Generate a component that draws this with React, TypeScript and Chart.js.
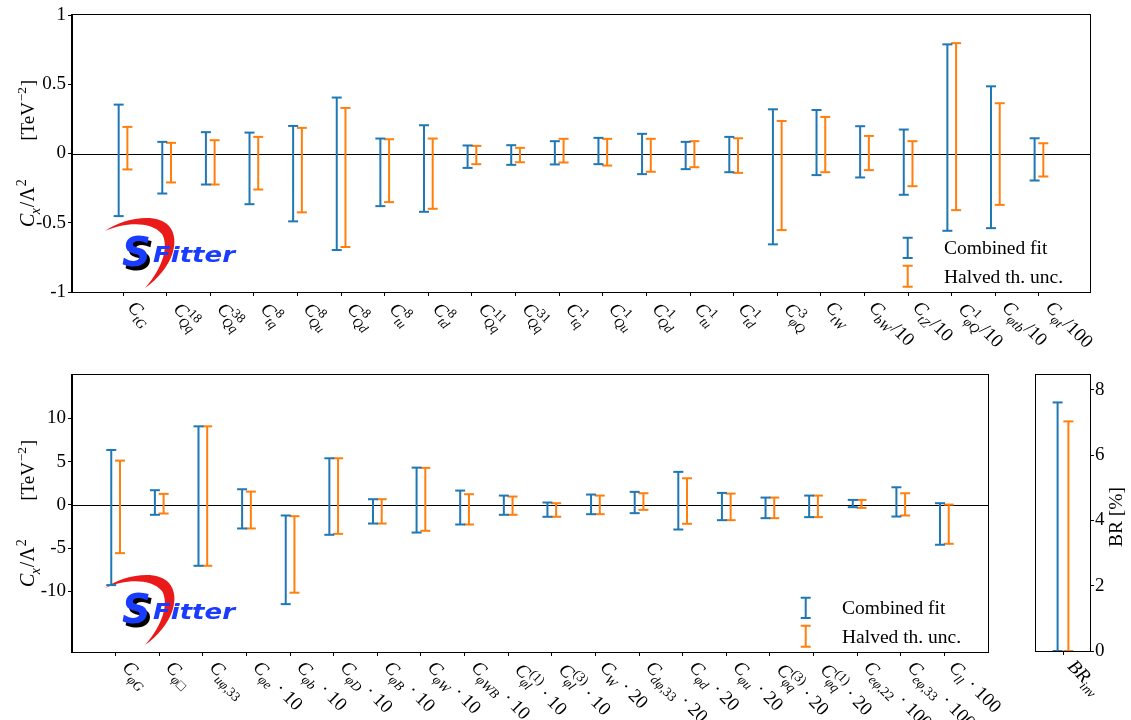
import React, { useEffect, useRef } from "react";
import { Chart, registerables } from "chart.js";
Chart.register(...registerables);

const FONT = "'Liberation Serif', 'DejaVu Serif', serif";
const SANS = "'DejaVu Sans', 'Liberation Sans', sans-serif";
const BLUE = "#1f77b4";
const ORANGE = "#ff7f0e";
const OFFSET = 0.1;

// ---------- top panel ----------
const topLabels = [
  "C_{tG}", "C_{Qq}^{18}", "C_{Qq}^{38}", "C_{tq}^{8}", "C_{Qu}^{8}", "C_{Qd}^{8}",
  "C_{tu}^{8}", "C_{td}^{8}", "C_{Qq}^{11}", "C_{Qq}^{31}", "C_{tq}^{1}", "C_{Qu}^{1}",
  "C_{Qd}^{1}", "C_{tu}^{1}", "C_{td}^{1}", "C_{φQ}^{3}", "C_{tW}", "C_{bW}/10",
  "C_{tZ}/10", "C_{φQ}^{1}/10", "C_{φtb}/10", "C_{φt}/100",
];
const topCombinedHigh = [0.353, 0.084, 0.154, 0.151, 0.199, 0.404, 0.108, 0.204, 0.058, 0.060, 0.089, 0.113, 0.142, 0.084, 0.120, 0.319, 0.314, 0.197, 0.173, 0.788, 0.485, 0.110];
const topCombinedLow = [-0.452, -0.289, -0.224, -0.366, -0.490, -0.697, -0.380, -0.421, -0.104, -0.082, -0.079, -0.077, -0.149, -0.113, -0.135, -0.656, -0.156, -0.173, -0.298, -0.558, -0.539, -0.195];
const topHalvedHigh = [0.192, 0.077, 0.096, 0.120, 0.185, 0.329, 0.103, 0.108, 0.055, 0.041, 0.106, 0.106, 0.106, 0.089, 0.110, 0.235, 0.264, 0.127, 0.089, 0.797, 0.363, 0.074];
const topHalvedLow = [-0.115, -0.209, -0.224, -0.260, -0.425, -0.675, -0.351, -0.399, -0.077, -0.063, -0.065, -0.087, -0.132, -0.099, -0.140, -0.553, -0.135, -0.120, -0.236, -0.409, -0.371, -0.166];
const topYTicks = [-1, -0.5, 0, 0.5, 1];

// ---------- bottom panel ----------
const bottomLabels = [
  "C_{φG}", "C_{φ□}", "C_{uφ,33}", "C_{φe} · 10", "C_{φb} · 10", "C_{φD} · 10",
  "C_{φB} · 10", "C_{φW} · 10", "C_{φWB} · 10", "C_{φl}^{(1)} · 10", "C_{φl}^{(3)} · 10",
  "C_{W} · 20", "C_{dφ,33} · 20", "C_{φd} · 20", "C_{φu} · 20", "C_{φq}^{(3)} · 20",
  "C_{φq}^{(1)} · 20", "C_{eφ,22} · 100", "C_{eφ,33} · 100", "C_{ll} · 100",
];
const bottomCombinedHigh = [6.34, 1.69, 9.07, 1.80, -1.23, 5.38, 0.65, 4.30, 1.65, 1.07, 0.27, 1.19, 1.50, 3.81, 1.38, 0.84, 1.07, 0.57, 2.03, 0.19];
const bottomCombinedLow = [-9.27, -1.15, -7.04, -2.73, -11.47, -3.46, -2.16, -3.20, -2.27, -1.15, -1.38, -1.08, -0.96, -2.85, -1.77, -1.54, -1.42, -0.27, -1.35, -4.61];
const bottomHalvedHigh = [5.11, 1.27, 9.07, 1.53, -1.31, 5.38, 0.65, 4.27, 1.23, 0.96, 0.19, 1.07, 1.34, 3.07, 1.30, 0.84, 1.07, 0.57, 1.34, 0.03];
const bottomHalvedLow = [-5.58, -1.00, -7.04, -2.73, -10.15, -3.35, -2.16, -3.00, -2.27, -1.15, -1.38, -1.08, -0.58, -2.19, -1.77, -1.54, -1.42, -0.35, -1.23, -4.50];
const bottomYTicks = [-10, -5, 0, 5, 10];

// ---------- BR panel ----------
const brLabels = ["BR_{inv}"];
const brCombinedHigh = [7.61];
const brCombinedLow = [0];
const brHalvedHigh = [7.03];
const brHalvedLow = [0];
const brYTicks = [0, 2, 4, 6, 8];

const legendLabels = ["Combined fit", "Halved th. unc."];
const yTitleParts = ["C_{x}/Λ^{2}", "[TeV^{−2}]"];
const brTitle = "BR [%]";

// ---------- helpers ----------
function errorPoints(lows: number[], highs: number[], off: number) {
  const pts: any[] = [];
  lows.forEach((lo, i) => {
    pts.push({ x: i + off, y: lo });
    pts.push({ x: i + off, y: highs[i] });
    pts.push({ x: i + off, y: null });
  });
  return pts;
}

function italicChar(c: string) {
  return /[A-Za-zφ]/.test(c);
}
function textRuns(s: string, math: boolean) {
  const out: { t: string; italic: boolean }[] = [];
  for (const c of s) {
    const it = math && italicChar(c);
    if (out.length && out[out.length - 1].italic === it) out[out.length - 1].t += c;
    else out.push({ t: c, italic: it });
  }
  return out;
}
function fontStr(size: number, italic: boolean) {
  return `${italic ? "italic " : ""}${size}px ${FONT}`;
}
type Piece = { t: string; size: number; italic: boolean; dy: number; x: number };
function layoutTex(ctx: CanvasRenderingContext2D, s: string, fs: number, math = true) {
  const pieces: Piece[] = [];
  let x = 0, groupStart = 0, groupW = 0, lastScript = false, asc = 0, desc = 0;
  const re = /([_^])\{([^}]*)\}|([^_^]+)/g;
  let m: RegExpExecArray | null;
  const add = (t: string, size: number, italic: boolean, dy: number, px: number) => {
    ctx.font = fontStr(size, italic);
    const mt = ctx.measureText(t);
    pieces.push({ t, size, italic, dy, x: px });
    asc = Math.max(asc, mt.actualBoundingBoxAscent - dy);
    desc = Math.max(desc, mt.actualBoundingBoxDescent + dy);
    return mt.width;
  };
  while ((m = re.exec(s)) !== null) {
    if (m[1]) {
      if (!lastScript) { groupStart = x; groupW = 0; }
      const isSub = m[1] === "_";
      const size = fs * 0.7;
      const dy = isSub ? fs * 0.28 : -fs * 0.4;
      let px = groupStart + (isSub ? -0.5 : 0.8);
      for (const r of textRuns(m[2], math)) px += add(r.t, size, r.italic, dy, px);
      groupW = Math.max(groupW, px - groupStart);
      x = groupStart + groupW + 0.8;
      lastScript = true;
    } else {
      for (const r of textRuns(m[3], math)) x += add(r.t, fs, r.italic, 0, x);
      lastScript = false;
    }
  }
  return { pieces, width: x, asc, desc };
}
function drawPieces(ctx: CanvasRenderingContext2D, pieces: Piece[], ox: number, oy: number, angle: number, xoff = 0) {
  ctx.save();
  ctx.translate(ox, oy);
  ctx.rotate(angle);
  ctx.fillStyle = "#000";
  ctx.textBaseline = "alphabetic";
  ctx.textAlign = "left";
  for (const p of pieces) {
    ctx.font = fontStr(p.size, p.italic);
    ctx.fillText(p.t, p.x + xoff, p.dy);
  }
  ctx.restore();
}

const LABEL_FS = 19;
const LABEL_DX = 0;
const LABEL_DY = 7;

function drawXLabels(chart: any, labels: string[]) {
  const ctx = chart.ctx as CanvasRenderingContext2D;
  const xs = chart.scales.x;
  const bottom = chart.chartArea.bottom;
  const c = Math.SQRT1_2;
  labels.forEach((lab, i) => {
    const lay = layoutTex(ctx, lab, LABEL_FS);
    const tx = xs.getPixelForValue(i);
    drawPieces(ctx, lay.pieces, tx + LABEL_DX + c * lay.desc, bottom + LABEL_DY + c * lay.asc, Math.PI / 4);
  });
}

function drawYTitle(chart: any, baselineX: number, span: number) {
  const ctx = chart.ctx as CanvasRenderingContext2D;
  const { top, bottom } = chart.chartArea;
  const cy = (top + bottom) / 2;
  const a = layoutTex(ctx, yTitleParts[0], 20, true);
  const b = layoutTex(ctx, yTitleParts[1], 19, false);
  const gap = span - a.width - b.width;
  const start = -span / 2;
  drawPieces(ctx, a.pieces, baselineX, cy, -Math.PI / 2, start);
  drawPieces(ctx, b.pieces, baselineX, cy, -Math.PI / 2, start + a.width + gap);
}

function drawI(ctx: CanvasRenderingContext2D, x: number, y1: number, y2: number, color: string) {
  ctx.strokeStyle = color;
  ctx.lineWidth = 2;
  ctx.beginPath();
  ctx.moveTo(x, y1); ctx.lineTo(x, y2);
  ctx.moveTo(x - 5, y1); ctx.lineTo(x + 5, y1);
  ctx.moveTo(x - 5, y2); ctx.lineTo(x + 5, y2);
  ctx.stroke();
}

function drawLegend(chart: any) {
  const ctx = chart.ctx as CanvasRenderingContext2D;
  const { right, bottom } = chart.chartArea;
  const tx = right - 146;
  const ix = tx - 36.3;
  drawI(ctx, ix, bottom - 54.3, bottom - 34, BLUE);
  drawI(ctx, ix, bottom - 26.3, bottom - 5.3, ORANGE);
  ctx.fillStyle = "#000";
  ctx.font = `19.5px ${FONT}`;
  ctx.textAlign = "left";
  ctx.textBaseline = "alphabetic";
  ctx.fillText(legendLabels[0], tx, bottom - 37.7);
  ctx.fillText(legendLabels[1], tx, bottom - 8.7);
}

function drawLogo(ctx: CanvasRenderingContext2D, ox: number, oy: number) {
  ctx.save();
  ctx.translate(ox, oy);
  ctx.beginPath();
  ctx.moveTo(0, 13);
  ctx.bezierCurveTo(18, 0, 52, -6, 64, 8);
  ctx.bezierCurveTo(76, 22, 68, 50, 40, 70);
  ctx.bezierCurveTo(58, 50, 64, 28, 57, 16);
  ctx.bezierCurveTo(46, 3, 20, 4, 0, 13);
  ctx.closePath();
  ctx.fillStyle = "#ea1a1a";
  ctx.fill();
  ctx.font = `bold italic 40px ${SANS}`;
  ctx.textBaseline = "alphabetic";
  ctx.textAlign = "left";
  ctx.fillStyle = "#000";
  ctx.fillText("S", 20, 52);
  ctx.fillStyle = "#1a3cff";
  ctx.fillText("S", 17, 48);
  ctx.font = `bold italic 21px ${SANS}`;
  const w = ctx.measureText("Fitter").width;
  ctx.save();
  ctx.translate(48, 44);
  ctx.scale(82 / w, 1);
  ctx.fillText("Fitter", 0, 0);
  ctx.restore();
  ctx.restore();
}

type Spec = {
  labels: string[];
  cLow: number[]; cHigh: number[]; hLow: number[]; hHigh: number[];
  xMin: number; xMax: number; yMin: number; yMax: number; yTicks: number[];
  yPos: "left" | "right";
  padding: { left: number; right: number; top: number; bottom: number };
  yWidth: number; xHeight: number;
  zeroLine: boolean; legend: boolean; logo: [number, number] | null;
  title: "coef" | "br";
};

function makeChart(canvas: HTMLCanvasElement, s: Spec) {
  const decor = {
    id: "decor",
    beforeDatasetsDraw(chart: any) {
      const ctx = chart.ctx as CanvasRenderingContext2D;
      const { left, right } = chart.chartArea;
      if (s.zeroLine) {
        const y = Math.round(chart.scales.y.getPixelForValue(0)) + 0.5;
        ctx.save();
        ctx.strokeStyle = "#000";
        ctx.lineWidth = 1;
        ctx.beginPath();
        ctx.moveTo(left, y); ctx.lineTo(right, y);
        ctx.stroke();
        ctx.restore();
      }
      if (s.logo) drawLogo(ctx, s.logo[0], s.logo[1]);
    },
    afterDraw(chart: any) {
      const ctx = chart.ctx as CanvasRenderingContext2D;
      const { left, right, top, bottom } = chart.chartArea;
      ctx.save();
      ctx.strokeStyle = "#000";
      ctx.lineWidth = 1;
      ctx.strokeRect(Math.round(left) - 0.5, Math.round(top) - 0.5, Math.round(right - left) + 1, Math.round(bottom - top) + 1);
      ctx.restore();
      ctx.save();
      drawXLabels(chart, s.labels);
      if (s.title === "coef") drawYTitle(chart, 34, 147);
      else {
        ctx.fillStyle = "#000";
        ctx.font = `19.5px ${FONT}`;
        ctx.textAlign = "center";
        ctx.textBaseline = "alphabetic";
        ctx.translate(102, (top + bottom) / 2 + 4);
        ctx.rotate(-Math.PI / 2);
        ctx.fillText(brTitle, 0, 0);
      }
      ctx.restore();
      if (s.legend) { ctx.save(); drawLegend(chart); ctx.restore(); }
    },
  };
  const ds = (low: number[], high: number[], off: number, color: string, label: string) => ({
    label,
    data: errorPoints(low, high, off),
    borderColor: color,
    backgroundColor: color,
    borderWidth: 2,
    pointStyle: "line",
    pointRadius: 5,
    pointBorderWidth: 2,
    pointBorderColor: color,
    pointHoverRadius: 5,
    spanGaps: false,
    showLine: true,
    fill: false,
    tension: 0,
    clip: false,
  });
  return new Chart(canvas, {
    type: "line",
    data: {
      datasets: [
        ds(s.cLow, s.cHigh, -OFFSET, BLUE, legendLabels[0]),
        ds(s.hLow, s.hHigh, OFFSET, ORANGE, legendLabels[1]),
      ] as any,
    },
    options: {
      animation: false,
      responsive: false,
      events: [],
      layout: { padding: s.padding },
      plugins: { legend: { display: false }, tooltip: { enabled: false } },
      scales: {
        x: {
          type: "linear",
          min: s.xMin,
          max: s.xMax,
          afterBuildTicks: (sc: any) => { sc.ticks = s.labels.map((_, i) => ({ value: i })); },
          afterFit: (sc: any) => { sc.height = s.xHeight; },
          ticks: { display: false },
          grid: { drawOnChartArea: false, drawTicks: true, tickLength: 4, tickColor: "#000", tickWidth: 1 },
          border: { display: true, color: "#000", width: 1 },
        },
        y: {
          type: "linear",
          position: s.yPos,
          min: s.yMin,
          max: s.yMax,
          afterBuildTicks: (sc: any) => { sc.ticks = s.yTicks.map((v) => ({ value: v })); },
          afterFit: (sc: any) => { sc.width = s.yWidth; },
          ticks: {
            color: "#000",
            padding: s.yPos === "left" ? 2 : 1,
            font: { family: FONT, size: 19 },
            callback: (v: any) => String(v),
          },
          grid: { drawOnChartArea: false, drawTicks: true, tickLength: 4, tickColor: "#000", tickWidth: 1 },
          border: { display: true, color: "#000", width: 1 },
        },
      },
    } as any,
    plugins: [decor],
  });
}

export default function App() {
  const topRef = useRef<HTMLCanvasElement>(null);
  const botRef = useRef<HTMLCanvasElement>(null);
  const brRef = useRef<HTMLCanvasElement>(null);
  useEffect(() => {
    const charts = [
      makeChart(topRef.current!, {
        labels: topLabels, cLow: topCombinedLow, cHigh: topCombinedHigh, hLow: topHalvedLow, hHigh: topHalvedHigh,
        xMin: -1.17, xMax: 22.17, yMin: -1, yMax: 1, yTicks: topYTicks, yPos: "left",
        padding: { left: 0, right: 41, top: 15, bottom: 0 }, yWidth: 72, xHeight: 68,
        zeroLine: true, legend: true, logo: [105, 218], title: "coef",
      }),
      makeChart(botRef.current!, {
        labels: bottomLabels, cLow: bottomCombinedLow, cHigh: bottomCombinedHigh, hLow: bottomHalvedLow, hHigh: bottomHalvedHigh,
        xMin: -1, xMax: 20, yMin: -17, yMax: 15, yTicks: bottomYTicks, yPos: "left",
        padding: { left: 0, right: 32, top: 15, bottom: 0 }, yWidth: 72, xHeight: 68,
        zeroLine: true, legend: true, logo: [105, 215], title: "coef",
      }),
      makeChart(brRef.current!, {
        labels: brLabels, cLow: brCombinedLow, cHigh: brCombinedHigh, hLow: brHalvedLow, hHigh: brHalvedHigh,
        xMin: -0.5, xMax: 0.5, yMin: 0, yMax: 8.45, yTicks: brYTicks, yPos: "right",
        padding: { left: 16, right: 0, top: 15, bottom: 0 }, yWidth: 41, xHeight: 69,
        zeroLine: false, legend: false, logo: null, title: "br",
      }),
    ];
    return () => charts.forEach((c) => c.destroy());
  }, []);
  return (
    <div style={{ position: "absolute", left: 0, top: 0, width: 1131, height: 720, background: "#fff" }}>
      <canvas ref={topRef} width={1131} height={360} style={{ position: "absolute", left: 0, top: 0 }} />
      <canvas ref={botRef} width={1020} height={360} style={{ position: "absolute", left: 0, top: 360 }} />
      <canvas ref={brRef} width={111} height={360} style={{ position: "absolute", left: 1020, top: 360 }} />
    </div>
  );
}
